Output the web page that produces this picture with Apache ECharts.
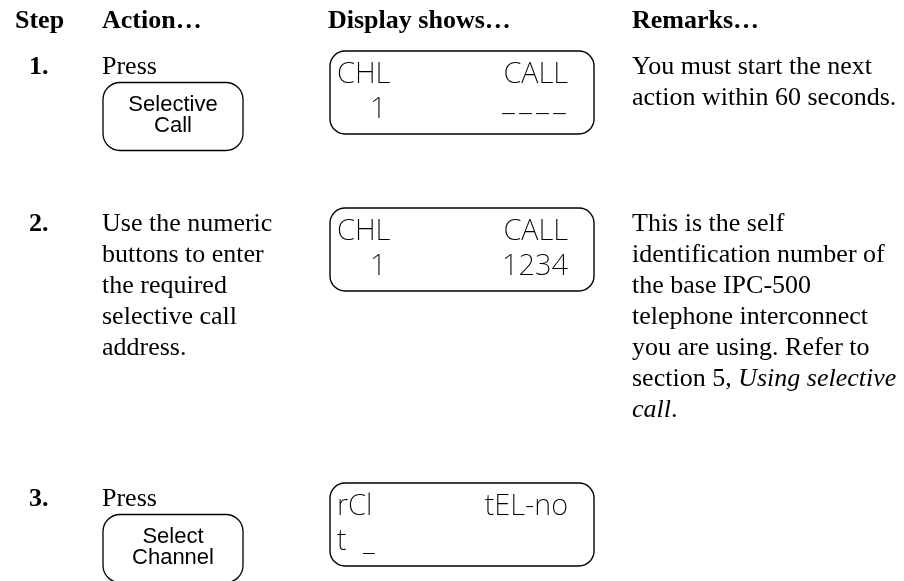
<!DOCTYPE html>
<html><head><meta charset="utf-8">
<script src="https://cdn.jsdelivr.net/npm/echarts@6/dist/echarts.min.js"></script>
<style>html,body{margin:0;padding:0;background:#fff}#c{width:904px;height:581px}</style>
</head><body><div id="c"></div>
<script>
// ---- content ----
const headers = ['Step', 'Action…', 'Display shows…', 'Remarks…'];
const steps = ['1.', '2.', '3.'];
const actions = [
  ['Press'],
  ['Use the numeric', 'buttons to enter', 'the required', 'selective call', 'address.'],
  ['Press']
];
const buttons = [['Selective', 'Call'], [], ['Select', 'Channel']];
const displayLine1 = [['CHL', 'CALL'], ['CHL', 'CALL'], ['rCl', 'tEL-no']];
const displayLine2 = [['  1', '----'], ['  1', '1234'], ['t _', '']];
const remarks = [
  ['You must start the next', 'action within 60 seconds.'],
  ['This is the self', 'identification number of', 'the base IPC-500', 'telephone interconnect',
   'you are using. Refer to', 'section 5, {i|Using selective}', '{i|call}.'],
  []
];

// ---- layout / style ----
const L = {
  colX: [15, 102, 328, 632],
  stepX: 29,
  headerBase: 30,
  rowBase: [76, 233, 508],
  lineGap: 31,
  fs: 26,
  serif: { family: '"Liberation Serif","Times New Roman",serif', mid: 0.3375 },
  sans: { family: '"Liberation Sans",Arial,sans-serif', mid: 0.3465 },
  lcd: { family: '"Noto Sans","DejaVu Sans",sans-serif', mid: 0.388, weight: 200 },
  btn: { x: 103, w: 140, h: 68, off: 6.5, r: 17, fs: 22, l1: 30, l2: 51 },
  disp: { x: 330, w: 264, h: 83, off: -25, r: 15, fs: 29, padL: 7, padR: 26, b1: 35, b2: 70, pitch: 17, dashDrop: 4 }
};

function txt(x, base, text, o) {
  const size = o.size;
  const st = {
    text: text, fontFamily: o.font.family, fontSize: size,
    fontWeight: o.weight || o.font.weight || 'normal', fontStyle: o.style || 'normal',
    fill: '#000', align: o.align || 'left', verticalAlign: 'middle'
  };
  if (o.rich) st.rich = o.rich;
  return { type: 'text', x: x, y: base - o.font.mid * size, silent: true, style: st };
}

// LCD cells are fixed pitch: blanks become figure spaces; placeholder dashes are spread over their cells
const measureCtx = document.createElement('canvas').getContext('2d');
function lcd(x, base, s, align) {
  if (!s) return null;
  const o = { size: L.disp.fs, font: L.lcd, align: align };
  const el = txt(x, base, s.replace(/ /g, '\u2007'), o);
  if (/^-+$/.test(s)) {
    measureCtx.font = L.lcd.weight + ' ' + L.disp.fs + 'px ' + L.lcd.family;
    const w = measureCtx.measureText(s).width;
    el.scaleX = (s.length * L.disp.pitch) / w;
    el.y += L.disp.dashDrop;
  }
  return el;
}

const g = [];
headers.forEach((h, i) => g.push(txt(L.colX[i], L.headerBase, h, { size: L.fs, font: L.serif, weight: 'bold' })));

const richI = { i: { fontStyle: 'italic', fontFamily: L.serif.family, fontSize: L.fs, fill: '#000' } };

steps.forEach((s, r) => {
  const base = L.rowBase[r];
  g.push(txt(L.stepX, base, s, { size: L.fs, font: L.serif, weight: 'bold' }));
  actions[r].forEach((line, k) => g.push(txt(L.colX[1], base + k * L.lineGap, line, { size: L.fs, font: L.serif })));
  remarks[r].forEach((line, k) => g.push(txt(L.colX[3], base + k * L.lineGap, line, { size: L.fs, font: L.serif, rich: richI })));

  if (buttons[r].length) {
    const top = base + L.btn.off;
    g.push({ type: 'rect', silent: true, shape: { x: L.btn.x, y: top, width: L.btn.w, height: L.btn.h, r: L.btn.r },
      style: { fill: 'none', stroke: '#000', lineWidth: 1.3 } });
    const cx = L.btn.x + L.btn.w / 2;
    g.push(txt(cx, top + L.btn.l1, buttons[r][0], { size: L.btn.fs, font: L.sans, align: 'center' }));
    g.push(txt(cx, top + L.btn.l2, buttons[r][1], { size: L.btn.fs, font: L.sans, align: 'center' }));
  }

  const dt = base + L.disp.off;
  g.push({ type: 'rect', silent: true, shape: { x: L.disp.x, y: dt, width: L.disp.w, height: L.disp.h, r: L.disp.r },
    style: { fill: 'none', stroke: '#000', lineWidth: 1.4 } });
  const lx = L.disp.x + L.disp.padL, rx = L.disp.x + L.disp.w - L.disp.padR;
  [lcd(lx, dt + L.disp.b1, displayLine1[r][0], 'left'),
   lcd(rx, dt + L.disp.b1, displayLine1[r][1], 'right'),
   lcd(lx, dt + L.disp.b2, displayLine2[r][0], 'left'),
   lcd(rx, dt + L.disp.b2, displayLine2[r][1], 'right')].forEach(e => { if (e) g.push(e); });
});

const chart = echarts.init(document.getElementById('c'), null, { renderer: 'canvas', width: 904, height: 581 });
chart.setOption({ backgroundColor: '#fff', animation: false, graphic: { elements: g } });
</script></body></html>
